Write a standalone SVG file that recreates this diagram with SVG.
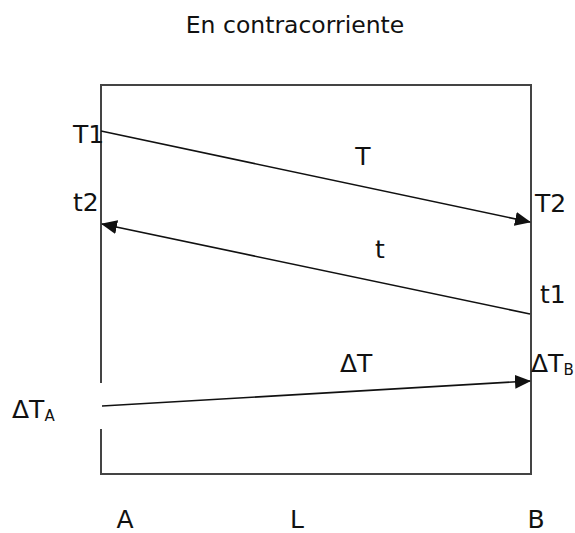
<svg xmlns="http://www.w3.org/2000/svg" width="575" height="533" viewBox="0 0 575 533">
<style>
text{font-family:"DejaVu Sans","Verdana",sans-serif;fill:#111;}
.lbl{font-size:25px;}
.sub{font-size:15px;}
.frame{fill:none;stroke:#444;stroke-width:2;}
.conn{fill:none;stroke:#111;stroke-width:1.6;}
</style>
<defs>
<marker id="ah" markerUnits="userSpaceOnUse" markerWidth="16" markerHeight="14" refX="15" refY="7" orient="auto">
<path d="M0,0 L16,7 L0,14 Z" fill="#111"/>
</marker>
</defs>
<rect width="575" height="533" fill="#fff"/>
<g id="title"><text x="295" y="33" font-size="23.5" text-anchor="middle">En contracorriente</text></g>
<g id="frame">
<path class="frame" d="M101,383 V85 H531 V474 H101 V429"/>
</g>
<g id="connectors">
<line class="conn" x1="101" y1="131" x2="530" y2="222" marker-end="url(#ah)"/>
<line class="conn" x1="530" y1="314" x2="102" y2="224" marker-end="url(#ah)"/>
<line class="conn" x1="102" y1="406" x2="530" y2="381" marker-end="url(#ah)"/>
</g>
<g id="labels">
<text class="lbl" x="73" y="143">T1</text>
<text class="lbl" x="73" y="211">t2</text>
<text class="lbl" x="535" y="212">T2</text>
<text class="lbl" x="540" y="303">t1</text>
<text class="lbl" x="363" y="165" text-anchor="middle">T</text>
<text class="lbl" x="380" y="258" text-anchor="middle">t</text>
<text class="lbl" x="340" y="372">ΔT</text>
<text class="lbl" x="12" y="418">ΔT<tspan class="sub" dy="3">A</tspan></text>
<text class="lbl" x="531" y="372">ΔT<tspan class="sub" dy="3">B</tspan></text>
<text class="lbl" x="125" y="528" text-anchor="middle">A</text>
<text class="lbl" x="297" y="528" text-anchor="middle">L</text>
<text class="lbl" x="536" y="528" text-anchor="middle">B</text>
</g>
</svg>
